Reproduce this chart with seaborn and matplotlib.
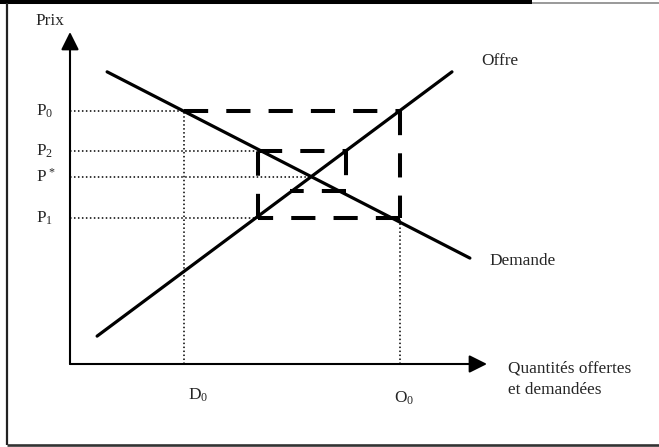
import matplotlib
matplotlib.use('Agg')
import matplotlib.pyplot as plt
from matplotlib.lines import Line2D
import seaborn as sns

sns.set_style('white')
plt.rcParams['font.family'] = ['Liberation Serif', 'DejaVu Serif']
plt.rcParams['mathtext.fontset'] = 'custom'
plt.rcParams['mathtext.rm'] = 'Liberation Serif'

# Schematic values (quantity 0-100, price 0-100)
demande_q = [8.9, 95.9]
demande_p = [88.0, 31.9]
offre_q = [6.5, 91.6]
offre_p = [8.4, 88.0]

# price levels and quantities
p0, p2, p_star, p1 = 76.2, 64.2, 56.3, 44.0
d0, o0 = 27.3, 79.1
q_p1, q_star = 45.1, 57.8

# cobweb path (dashed spiral)
toile_q = [27.3, 79.1, 79.1, 45.1, 45.1, 66.2, 66.2, 52.8]
toile_p = [76.2, 76.2, 44.0, 44.0, 64.2, 64.2, 52.1, 52.1]

W, H = 659, 447
fig = plt.figure(figsize=(W / 100, H / 100), dpi=100)


def px(x, y):
    return x / W, 1 - y / H


# outer frame (cropped box)
for (x0, y0), (x1, y1), lw, col in [((0, 1.8), (532, 1.8), 2.9, 'black'),
                                     ((532, 3), (659, 3), 1.2, '#888888'),
                                     ((7, 3), (7, 444.5), 1.6, '#222222'),
                                     ((7, 444.5), (659, 444.5), 1.9, '#333333')]:
    a, b = px(x0, y0)
    c, d = px(x1, y1)
    fig.add_artist(Line2D([a, c], [b, d], lw=lw, color=col, solid_capstyle='butt'))

ax = fig.add_axes([70 / W, (H - 364) / H, (487 - 70) / W, (364 - 32) / H])
ax.set_xlim(0, 100)
ax.set_ylim(0, 100)
ax.axis('off')

# axes with arrows
arrow = dict(arrowstyle='-|>', lw=1.5, color='black', mutation_scale=27,
             shrinkA=0, shrinkB=0)
ax.annotate('', xy=(0, 1), xytext=(0, 0), xycoords='axes fraction', arrowprops=arrow)
ax.annotate('', xy=(1, 0), xytext=(0, 0), xycoords='axes fraction', arrowprops=arrow)

# dotted guides
dot = dict(color='black', lw=1.1, ls=(0, (1, 1.6)), clip_on=False)
for p, q in [(p0, d0), (p2, q_p1), (p_star, q_star), (p1, q_p1)]:
    ax.plot([0, q], [p, p], **dot)
ax.plot([d0, d0], [0, p0], **dot)
ax.plot([o0, o0], [0, p1], **dot)

# supply and demand
sns.lineplot(x=demande_q, y=demande_p, ax=ax, color='black', lw=2.3, estimator=None)
sns.lineplot(x=offre_q, y=offre_p, ax=ax, color='black', lw=2.3, estimator=None)

# cobweb, dash pattern restarts at every corner
for i in range(len(toile_q) - 1):
    sns.lineplot(x=toile_q[i:i + 2], y=toile_p[i:i + 2], ax=ax, sort=False,
                 estimator=None, color='black', lw=2.9,
                 linestyle=(0, (6, 4.5)), solid_capstyle='butt', dash_capstyle='butt')

fs = 12.4
ax.text(-4.8, 103.3, 'Prix', fontsize=fs, ha='center', va='center', clip_on=False)
ax.text(98.6, 91.3, 'Offre', fontsize=fs, ha='left', va='center', clip_on=False)
ax.text(100.7, 31.0, 'Demande', fontsize=fs, ha='left', va='center', clip_on=False)
ax.text(105.0, -4.6, 'Quantités offertes\net demandées', fontsize=fs, ha='left',
        va='center', linespacing=1.38, clip_on=False)
ax.text(28.3, -9.3, r'$\mathregular{D_0}$', fontsize=fs, ha='left', va='center', clip_on=False)
ax.text(77.7, -10.2, r'$\mathregular{O_0}$', fontsize=fs, ha='left', va='center', clip_on=False)
for lab, p in [(r'$\mathregular{P_0}$', p0), (r'$\mathregular{P_2}$', p2),
               (r'$\mathregular{P^*}$', p_star), (r'$\mathregular{P_1}$', p1)]:
    ax.text(-8.2, p, lab, fontsize=fs, ha='left', va='center', clip_on=False)

fig.savefig('out.png', dpi=100)
